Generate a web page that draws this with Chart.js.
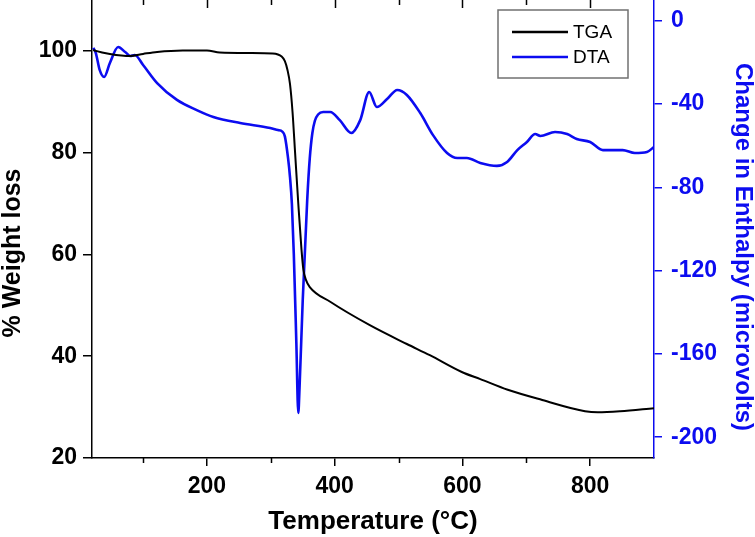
<!DOCTYPE html>
<html lang="en">
<head>
<meta charset="UTF-8">
<title>TGA / DTA</title>
<script src="https://cdn.jsdelivr.net/npm/chart.js@4.4.1/dist/chart.umd.min.js"></script>
<style>
  body { margin: 0; background: #fff; }
</style>
</head>
<body>
<canvas id="chart" width="755" height="537"></canvas>
<script>
// TGA curve (% weight, left axis)
const tgaTemp   = [22, 26, 48, 80, 100, 122, 162, 200, 220, 267, 303, 317, 322, 326, 330, 334, 338, 343, 348, 351, 355, 361, 393, 455, 513, 549, 599, 628, 671, 725, 792, 812, 847, 900];
const tgaWeight = [100.2, 100.0, 99.4, 99.0, 99.4, 99.8, 100.1, 100.1, 99.7, 99.6, 99.5, 98.9, 98.0, 96.3, 93.5, 88.0, 80.0, 70.0, 61.0, 57.0, 55.0, 53.6, 50.7, 46.1, 42.4, 40.2, 36.9, 35.5, 33.4, 31.4, 29.2, 29.0, 29.2, 29.8];

// DTA curve (microvolts, right axis)
const dtaTemp = [22, 26, 32, 39, 48, 61, 72, 80, 87, 100, 122, 153, 184, 210, 252, 299, 311, 318, 322, 327,
                 330, 333, 336, 340, 343, 345, 350, 357, 361, 365, 369, 374, 382, 393, 408, 426, 440, 454, 466, 482,
                 498, 513, 534, 554, 576, 592, 607, 628, 654, 670, 686, 701, 714, 722, 745, 764, 779, 800, 820,
                 851, 870, 889, 900];
const dtaEnthalpy = [-13, -15.5, -23.6, -27.0, -20.3, -12.6, -15.0, -16.9, -16.4, -21.2, -29.9, -38.0, -42.9, -46.2, -49.1, -51.5, -52.5, -53.2, -55.5, -66,
                     -75, -88, -112, -155, -188.4, -176, -134, -86, -66, -54, -48, -45, -43.8, -43.8, -47.7, -53.9, -47.7, -34.2, -41.4, -37.6,
                     -33.2, -35.6, -44.3, -54.9, -63.5, -65.9, -65.9, -68.3, -69.7, -67.8, -62.1, -58.2, -54.4, -55.3, -53.4, -54.4, -56.8, -58.2, -62.1,
                     -62.1, -63.5, -63.0, -60.6];

// ticks and titles
const xTicks = [100, 200, 300, 400, 500, 600, 700, 800];
const xLabels = [200, 400, 600, 800];
const weightTicks = [20, 40, 60, 80, 100];
const enthalpyTicks = [-200, -160, -120, -80, -40, 0];
const leftTitle = '% Weight loss';
const rightTitle = 'Change in Enthalpy (microvolts)';

const blue = '#0c0cf0';
const fam = "'Liberation Sans', Arial, sans-serif";

const toPoints = (xs, ys) => xs.map((x, i) => ({ x: x, y: ys[i] }));

function vText(ctx, text, x, y, angle, color, size) {
  ctx.save();
  ctx.translate(x, y);
  ctx.rotate(angle);
  ctx.font = 'bold ' + size + 'px ' + fam;
  ctx.fillStyle = color;
  ctx.textAlign = 'center';
  ctx.textBaseline = 'middle';
  ctx.fillText(text, 0, 0);
  ctx.restore();
}

// extra tick marks (minor + mirrored top), vertical titles and the boxed legend
const extras = {
  id: 'extras',
  afterDraw(chart) {
    const ctx = chart.ctx, a = chart.chartArea, x = chart.scales.x;
    ctx.save();
    ctx.strokeStyle = '#000';
    ctx.lineWidth = 1.5;
    xTicks.forEach(v => {
      const px = Math.round(x.getPixelForValue(v)) + 0.5;
      const major = xLabels.includes(v);
      ctx.beginPath();
      ctx.moveTo(px, a.top);
      ctx.lineTo(px, a.top + (major ? 8 : 5));
      if (!major) {
        ctx.moveTo(px, a.bottom);
        ctx.lineTo(px, a.bottom + 5);
      }
      ctx.stroke();
    });

    vText(ctx, leftTitle, 13, 253, -Math.PI / 2, '#000', 25);
    vText(ctx, rightTitle, 743, 247, Math.PI / 2, blue, 24);

    // legend
    const bx = 498, by = 10, bw = 130, bh = 68;
    ctx.fillStyle = '#fff';
    ctx.fillRect(bx, by, bw, bh);
    ctx.strokeStyle = '#707070';
    ctx.lineWidth = 1.5;
    ctx.strokeRect(bx, by, bw, bh);
    ctx.font = '19px ' + fam;
    ctx.textBaseline = 'middle';
    chart.data.datasets.forEach((ds, i) => {
      const ly = by + 22 + i * 25;
      ctx.strokeStyle = ds.borderColor;
      ctx.lineWidth = 2.5;
      ctx.beginPath();
      ctx.moveTo(bx + 14, ly);
      ctx.lineTo(bx + 70, ly);
      ctx.stroke();
      ctx.fillStyle = '#000';
      ctx.fillText(ds.label, bx + 75, ly + 1);
    });
    ctx.restore();
  }
};

new Chart(document.getElementById('chart'), {
  type: 'line',
  data: {
    datasets: [
      {
        label: 'TGA',
        data: toPoints(tgaTemp, tgaWeight),
        yAxisID: 'y',
        borderColor: '#000',
        borderWidth: 2,
        pointRadius: 0,
        cubicInterpolationMode: 'monotone'
      },
      {
        label: 'DTA',
        data: toPoints(dtaTemp, dtaEnthalpy),
        yAxisID: 'y2',
        borderColor: blue,
        borderWidth: 2.6,
        pointRadius: 0,
        cubicInterpolationMode: 'monotone'
      }
    ]
  },
  options: {
    responsive: false,
    animation: false,
    layout: { padding: 0 },
    plugins: { legend: { display: false }, tooltip: { enabled: false } },
    scales: {
      x: {
        type: 'linear',
        min: 20,
        max: 900,
        afterBuildTicks: s => { s.ticks = xTicks.map(v => ({ value: v })); },
        afterFit: s => { s.height = 79; s.paddingLeft = 0; s.paddingRight = 0; },
        ticks: {
          autoSkip: false,
          maxRotation: 0,
          padding: 7,
          color: '#000',
          font: { family: fam, size: 23, weight: 'bold' },
          callback: v => (xLabels.includes(v) ? v : '')
        },
        grid: {
          drawOnChartArea: false,
          tickLength: 8,
          lineWidth: 1.5,
          color: c => (c.tick && xLabels.includes(c.tick.value) ? '#000' : 'rgba(0,0,0,0)')
        },
        border: { color: '#000', width: 1.5 },
        title: {
          display: true,
          text: 'Temperature (°C)',
          color: '#000',
          padding: 0,
          font: { family: fam, size: 26, weight: 'bold', lineHeight: 1.2 }
        }
      },
      y: {
        position: 'left',
        min: 20,
        max: 110,
        afterBuildTicks: s => { s.ticks = weightTicks.map(v => ({ value: v })); },
        afterFit: s => { s.width = 92; s.paddingTop = 0; s.paddingBottom = 0; },
        ticks: {
          padding: 6,
          color: '#000',
          font: { family: fam, size: 23, weight: 'bold' }
        },
        grid: { drawOnChartArea: false, tickLength: 9, lineWidth: 1.5, color: '#000' },
        border: { color: '#000', width: 1.5 }
      },
      y2: {
        position: 'right',
        min: -210,
        max: 10,
        afterBuildTicks: s => { s.ticks = enthalpyTicks.map(v => ({ value: v })); },
        afterFit: s => { s.width = 101; s.paddingTop = 0; s.paddingBottom = 0; },
        ticks: {
          padding: 9,
          color: blue,
          font: { family: fam, size: 23, weight: 'bold' }
        },
        grid: { drawOnChartArea: false, tickLength: 8, lineWidth: 1.5, color: blue },
        border: { color: blue, width: 1.5 }
      }
    }
  },
  plugins: [extras]
});
</script>
</body>
</html>
